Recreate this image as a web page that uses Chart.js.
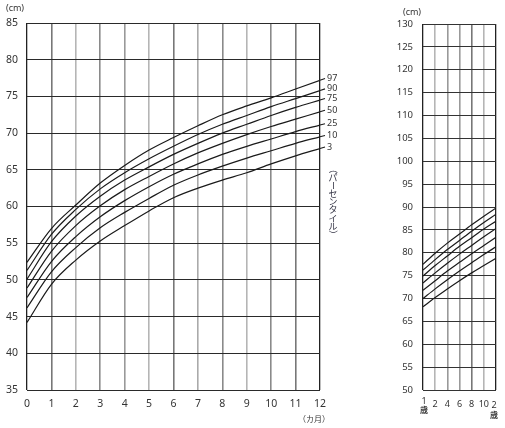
<!DOCTYPE html>
<html>
<head>
<meta charset="utf-8">
<script src="https://cdn.jsdelivr.net/npm/chart.js@4.4.1/dist/chart.umd.min.js"></script>
<style>
  html, body { margin: 0; padding: 0; background: #fff; }
  #wrap { position: relative; width: 505px; height: 428px; overflow: hidden; }
  #infant { position: absolute; left: 0; top: 0; }
  #toddler { position: absolute; left: 370px; top: 0; }
</style>
</head>
<body>
<div id="wrap">
  <canvas id="infant" width="345" height="428"></canvas>
  <canvas id="toddler" width="135" height="428"></canvas>
</div>
<script>
// 月齢 (0-12カ月)
const months = [0, 1, 2, 3, 4, 5, 6, 7, 8, 9, 10, 11, 12];
const percentiles = ['3', '10', '25', '50', '75', '90', '97'];

// 身長 (cm) 0-12カ月
const p3  = [44.2, 49.4, 52.7, 55.3, 57.4, 59.4, 61.2, 62.5, 63.6, 64.6, 65.8, 66.9, 67.9];
const p10 = [46.2, 51.1, 54.4, 57.1, 59.2, 61.1, 62.9, 64.3, 65.5, 66.6, 67.6, 68.6, 69.5];
const p25 = [47.6, 52.5, 55.9, 58.6, 60.8, 62.7, 64.4, 65.8, 67.1, 68.2, 69.2, 70.2, 71.1];
const p50 = [48.9, 53.9, 57.4, 60.1, 62.3, 64.1, 65.8, 67.3, 68.6, 69.8, 70.9, 71.9, 72.9];
const p75 = [50.1, 55.2, 58.7, 61.4, 63.6, 65.4, 67.1, 68.6, 70.0, 71.2, 72.4, 73.5, 74.5];
const p90 = [51.3, 56.2, 59.6, 62.4, 64.6, 66.5, 68.2, 69.8, 71.2, 72.4, 73.6, 74.7, 75.8];
const p97 = [52.4, 57.0, 60.2, 63.2, 65.6, 67.7, 69.4, 71.0, 72.5, 73.7, 74.8, 76.0, 77.2];

// 1歳-2歳 (月齢)
const toddlerMonths = [12, 14, 16, 18, 20, 22, 24];
const t3  = [68.2, 70.2, 72.1, 73.9, 75.6, 77.2, 78.8];
const t10 = [70.0, 72.1, 74.1, 76.0, 77.8, 79.6, 81.3];
const t25 = [71.8, 73.9, 76.0, 77.9, 79.8, 81.6, 83.4];
const t50 = [73.4, 75.6, 77.7, 79.7, 81.6, 83.5, 85.3];
const t75 = [74.9, 77.2, 79.3, 81.4, 83.3, 85.2, 86.9];
const t90 = [76.2, 78.5, 80.7, 82.7, 84.7, 86.6, 88.4];
const t97 = [77.5, 79.9, 82.1, 84.1, 86.1, 88.0, 89.8];

const infantSeries = [p3, p10, p25, p50, p75, p90, p97];
const toddlerSeries = [t3, t10, t25, t50, t75, t90, t97];

const FONT = '"Noto Sans", "Noto Sans CJK JP", sans-serif';
const JP = '"Noto Sans CJK JP", sans-serif';
const TXT = '#333';

function makeSets(xs, series) {
  return series.map((vals, i) => ({
    label: percentiles[i],
    data: xs.map((x, j) => ({ x: x, y: vals[j] })),
    borderColor: '#1a1a1a',
    borderWidth: 1.2,
    pointRadius: 0,
    cubicInterpolationMode: 'monotone',
    fill: false
  }));
}

// 縦線の濃さ
const monthShade = ['#222', '#777', '#b5b5b5', '#8a8a8a', '#999', '#b5b5b5', '#777',
                    '#aaa', '#8a8a8a', '#b5b5b5', '#8a8a8a', '#777', '#222'];

const infantExtras = {
  id: 'infantExtras',
  afterDatasetsDraw(chart) {
    const ctx = chart.ctx;
    const area = chart.chartArea;
    ctx.save();
    // percentile labels with short leader lines
    ctx.font = '9px ' + FONT;
    ctx.fillStyle = TXT;
    ctx.textBaseline = 'middle';
    ctx.textAlign = 'left';
    chart.data.datasets.forEach((ds, i) => {
      const pts = chart.getDatasetMeta(i).data;
      const a = pts[pts.length - 2], b = pts[pts.length - 1];
      const slope = (b.y - a.y) / (b.x - a.x);
      const ex = b.x + 5, ey = b.y + slope * 5;
      ctx.strokeStyle = '#1a1a1a';
      ctx.lineWidth = 1.1;
      ctx.beginPath();
      ctx.moveTo(b.x, b.y);
      ctx.lineTo(ex, ey);
      ctx.stroke();
      ctx.fillText(ds.label, ex + 2, ey);
    });
    // （パーセンタイル） vertical
    const chars = ['（', 'パ', 'ー', 'セ', 'ン', 'タ', 'イ', 'ル', '）'];
    ctx.font = '9px ' + JP;
    ctx.fillStyle = '#334';
    ctx.textAlign = 'center';
    const cx = area.right + 13;
    chars.forEach((ch, k) => {
      const cy = 169 + k * 8.2;
      if (ch === '（' || ch === 'ー' || ch === '）') {
        ctx.save();
        ctx.translate(cx, cy);
        ctx.rotate(Math.PI / 2);
        ctx.fillText(ch, 0, 0);
        ctx.restore();
      } else {
        ctx.fillText(ch, cx, cy);
      }
    });
    // units
    ctx.fillStyle = TXT;
    ctx.font = '9px ' + FONT;
    ctx.fillText('(cm)', 15, 8);
    ctx.font = '8px ' + JP;
    ctx.fillText('（カ月）', area.right - 6, 419);
    ctx.restore();
  }
};

const toddlerExtras = {
  id: 'toddlerExtras',
  afterDraw(chart) {
    const ctx = chart.ctx;
    const x = chart.scales.x;
    ctx.save();
    ctx.fillStyle = TXT;
    ctx.textAlign = 'center';
    ctx.textBaseline = 'middle';
    const x1 = x.getPixelForValue(12), x2 = x.getPixelForValue(24);
    ctx.font = '9px ' + FONT;
    ctx.fillText('1', x1 + 1, 401);
    ctx.fillText('2', x2 - 2, 405);
    ctx.font = 'bold 8px ' + JP;
    ctx.fillText('歳', x1 + 1, 410);
    ctx.fillText('歳', x2 - 2, 415);
    ctx.font = '9px ' + FONT;
    ctx.fillText('(cm)', 42, 12);
    ctx.restore();
  }
};

new Chart(document.getElementById('infant'), {
  type: 'line',
  data: { datasets: makeSets(months, infantSeries) },
  options: {
    responsive: false,
    animation: false,
    layout: { padding: { top: 23, right: 25, left: 0, bottom: 0 } },
    plugins: { legend: { display: false }, tooltip: { enabled: false } },
    scales: {
      x: {
        type: 'linear', min: 0, max: 12,
        ticks: { stepSize: 1, padding: 8, color: TXT, font: { family: FONT, size: 10.5 }, maxRotation: 0, autoSkip: false },
        grid: { drawTicks: false, color: c => monthShade[c.index] || '#999', lineWidth: c => (c.index === 0 || c.index === 12) ? 1.3 : 1.6 },
        border: { display: false },
        afterFit(s) { s.height = 38; }
      },
      y: {
        min: 35, max: 85,
        ticks: { stepSize: 5, padding: 9, color: TXT, font: { family: FONT, size: 10.5 } },
        grid: { drawTicks: false, color: '#2a2a2a', lineWidth: 1 },
        border: { display: false },
        afterFit(s) { s.width = 27; }
      }
    }
  },
  plugins: [infantExtras]
});

const toddlerShade = ['#222', '#b5b5b5', '#999', '#999', '#777', '#b5b5b5', '#222'];

new Chart(document.getElementById('toddler'), {
  type: 'line',
  data: { datasets: makeSets(toddlerMonths, toddlerSeries) },
  options: {
    responsive: false,
    animation: false,
    layout: { padding: { top: 24, right: 5, left: 0, bottom: 0 } },
    plugins: { legend: { display: false }, tooltip: { enabled: false } },
    scales: {
      x: {
        type: 'linear', min: 12, max: 24,
        ticks: { stepSize: 2, padding: 9, color: TXT, font: { family: FONT, size: 9 }, maxRotation: 0, autoSkip: false,
                 callback: v => (v === 12 || v === 24) ? '' : String(v - 12) },
        grid: { drawTicks: false, color: c => toddlerShade[c.index] || '#999', lineWidth: c => (c.index === 0 || c.index === 6) ? 1.3 : 1.6 },
        border: { display: false },
        afterFit(s) { s.height = 38; }
      },
      y: {
        min: 50, max: 130,
        ticks: { stepSize: 5, padding: 10, color: TXT, font: { family: FONT, size: 9.5 } },
        grid: { drawTicks: false, color: '#333', lineWidth: 1 },
        border: { display: false },
        afterFit(s) { s.width = 53; }
      }
    }
  },
  plugins: [toddlerExtras]
});
</script>
</body>
</html>
